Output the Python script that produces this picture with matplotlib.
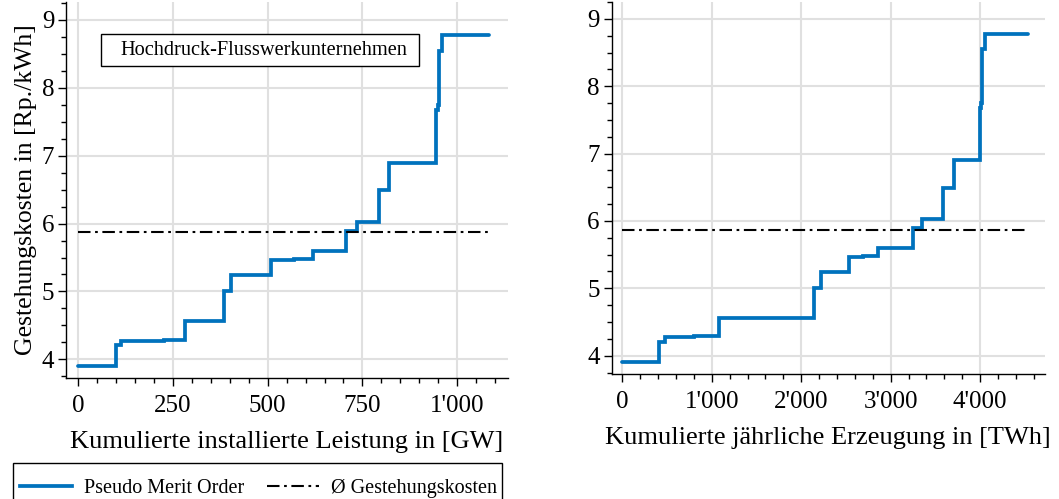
import matplotlib
matplotlib.use("Agg")
import matplotlib.pyplot as plt
from matplotlib.ticker import MultipleLocator, FuncFormatter
from matplotlib.lines import Line2D
from matplotlib.patches import Rectangle
import numpy as np

# --- data -------------------------------------------------------------
costs = [3.90, 4.21, 4.27, 4.29, 4.56, 5.00, 5.24, 5.47, 5.48, 5.60,
         5.89, 6.03, 6.49, 6.90, 7.67, 7.75, 8.55, 8.78]
cum_gw = [101, 113, 226, 281, 386, 404, 509, 569, 620, 707,
          735, 795, 821, 945, 949, 953, 960, 1085]
cum_twh = [414, 477, 801, 1085, 2144, 2218, 2539, 2695, 2863, 3254,
           3348, 3590, 3702, 3993, 4012, 4025, 4056, 4530]
avg_cost = 5.87

title_box = "Hochdruck-Flusswerkunternehmen"
ylabel = "Gestehungskosten in [Rp./kWh]"
xlabel_left = "Kumulierte installierte Leistung in [GW]"
xlabel_right = "Kumulierte jährliche Erzeugung in [TWh]"
legend_labels = ["Pseudo Merit Order", "Ø Gestehungskosten"]

# --- style ------------------------------------------------------------
plt.rcParams['font.family'] = ['Liberation Serif', 'DejaVu Serif']
blue = "#0072BD"

fig = plt.figure(figsize=(10.59, 4.99), dpi=100)
ax1 = fig.add_axes([0.0623, 0.2425, 0.4174, 0.7535])
ax2 = fig.add_axes([0.5776, 0.2505, 0.4092, 0.7455])


def fmt(v, pos):
    return f"{int(round(v)):,}".replace(",", "'")


def step_xy(ends):
    xs = [0]
    ys = [costs[0]]
    for i, e in enumerate(ends):
        xs.append(e)
        ys.append(costs[i])
        if i + 1 < len(costs):
            xs.append(e)
            ys.append(costs[i + 1])
    return xs, ys


DASH = (6, 2.2, 1.3, 2.2)

for ax, ends, xlim, ylim, major, minor, xl in [
    (ax1, cum_gw, (-32, 1134), (3.725, 9.265), 250, 50, xlabel_left),
    (ax2, cum_twh, (-119, 4725), (3.728, 9.25), 1000, 200, xlabel_right),
]:
    xs, ys = step_xy(ends)
    ax.plot(xs, ys, color=blue, lw=2.7, solid_capstyle='round',
            solid_joinstyle='miter', zorder=3)
    ax.plot([0, ends[-1]], [avg_cost, avg_cost], color='black', lw=1.5,
            dashes=DASH, zorder=4)
    ax.set_xlim(*xlim)
    ax.set_ylim(*ylim)
    ax.xaxis.set_major_locator(MultipleLocator(major))
    ax.xaxis.set_minor_locator(MultipleLocator(minor))
    ax.yaxis.set_major_locator(MultipleLocator(1))
    ax.yaxis.set_minor_locator(MultipleLocator(0.25))
    ax.xaxis.set_major_formatter(FuncFormatter(fmt))
    ax.grid(True, which='major', color='#e0e0e0', lw=1.5, zorder=0)
    ax.set_axisbelow(True)
    for s in ['top', 'right']:
        ax.spines[s].set_visible(False)
    for s in ['left', 'bottom']:
        ax.spines[s].set_linewidth(1.0)
    ax.tick_params(which='major', direction='out', length=5.5, width=1,
                   labelsize=18, pad=3, colors='black')
    ax.tick_params(axis='x', which='major', pad=7)
    ax.tick_params(which='minor', direction='out', length=3.5, width=1)
    ax.set_xlabel(xl, fontsize=19, labelpad=10)

ax1.set_ylabel(ylabel, fontsize=18.5, labelpad=3.5)

ax1.add_patch(Rectangle((0.0785, 0.830), 0.7201, 0.085, transform=ax1.transAxes,
                        fc='white', ec='black', lw=1.0, zorder=5))
ax1.text(0.447, 0.872, title_box, transform=ax1.transAxes, fontsize=14.7,
         ha='center', va='center', zorder=6)

# legend frame drawn separately (extends past bottom edge as in reference)
fig.patches.append(Rectangle((12.7 / 1059, -0.01), 0.462, 0.0821,
                             transform=fig.transFigure, fc='white',
                             ec='black', lw=1.0, zorder=1))
handles = [Line2D([], [], color=blue, lw=2.7),
           Line2D([], [], color='black', lw=1.5, dashes=DASH)]
leg = fig.legend(handles, legend_labels, loc='lower left',
                 bbox_to_anchor=(14 / 1059, -0.010), ncol=2, fontsize=14.5,
                 frameon=False, handlelength=2.6, columnspacing=1.1,
                 borderpad=0.3, handletextpad=0.6, borderaxespad=0)
leg.set_zorder(3)

fig.savefig("out.png", dpi=100)
